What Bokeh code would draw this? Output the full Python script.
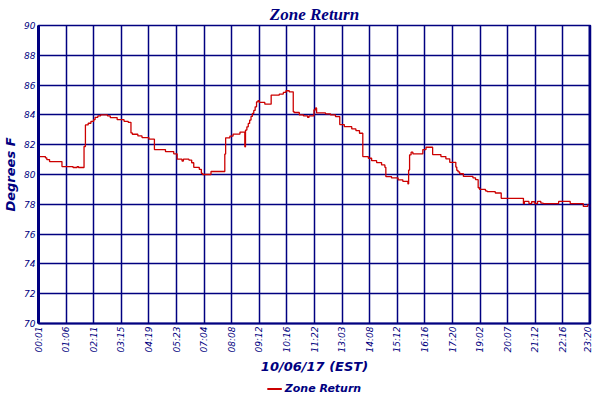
import math
from bokeh.plotting import figure
from bokeh.layouts import column
from bokeh.models import FixedTicker, Legend, LegendItem, Span, Range1d, ColumnDataSource
from bokeh.embed import file_html
from bokeh.resources import INLINE

# sample index (20 samples per grid interval) and zone return temperature
sample_idx = [0, 5, 6, 8, 17, 25, 28, 29, 33, 34, 36, 38, 40, 41, 43, 45, 50, 52, 57, 62,
              65, 67, 68, 72, 75, 80, 84, 92, 98, 100.5, 104, 105, 109, 111, 112.5, 116.5,
              118, 119, 125, 135, 135.6, 138.7, 141, 146, 149.5, 150, 151, 152, 153, 154,
              155, 156, 157, 158, 159, 160, 164, 168.6, 174.5, 177.4, 179.3, 181.7, 184.6,
              185.3, 189, 192, 195, 196, 199.6, 200.8, 201.5, 208, 211.6, 215.2, 218.3,
              221.6, 227, 230, 232.6, 235, 239, 241.4, 245, 248.6, 251, 251.7, 255.8, 260.6,
              264, 267.7, 268.2, 268.9, 270, 271.3, 278.5, 280.8, 285.6, 291.6, 295.2, 298,
              302.4, 303.1, 304, 305.2, 307.9, 314.8, 316.7, 318.6, 319.6, 323.9, 325.1, 331,
              335.3, 351.4, 352.1, 355.4, 357.3, 359.7, 361.6, 364, 365.7, 376.9, 385.3,
              394.8, 398, 399.5, 400]
zone_return = [81.2, 81.12, 81.0, 80.87, 80.53, 80.47, 80.53, 80.47, 81.88, 83.33, 83.44,
               83.57, 83.68, 83.84, 83.93, 84.0, 83.93, 83.82, 83.68, 83.57, 83.5, 82.79,
               82.7, 82.59, 82.48, 82.37, 81.67, 81.54, 81.39, 81.03, 80.9, 81.03, 80.97,
               80.79, 80.48, 80.35, 80.07, 80.0, 80.2, 81.37, 82.46, 82.58, 82.71, 82.85,
               81.86, 82.98, 83.2, 83.43, 83.65, 83.9, 84.1, 84.3, 84.54, 84.88, 84.95,
               84.84, 84.72, 85.33, 85.4, 85.51, 85.62, 85.55, 84.21, 84.16, 84.0, 83.93,
               83.83, 83.93, 84.34, 84.47, 84.13, 84.07, 84.0, 83.89, 83.35, 83.21, 83.06,
               82.95, 82.77, 81.2, 81.09, 80.93, 80.8, 80.64, 80.48, 79.86, 79.77, 79.64,
               79.54, 79.37, 80.3, 81.32, 81.5, 81.38, 81.67, 81.83, 81.34, 81.2, 81.05,
               80.82, 80.5, 80.28, 80.17, 80.05, 79.87, 79.78, 79.65, 79.11, 79.0, 78.9,
               78.85, 78.76, 78.4, 78.04, 78.19, 78.04, 78.17, 78.04, 78.19, 78.08, 78.04,
               78.19, 78.04, 77.86, 77.98, 77.86, 77.86]

tick_positions = [0, 20, 40, 60, 80, 100, 120, 140, 160, 180, 200, 220, 240, 260, 280,
                  300, 320, 340, 360, 380, 400]
tick_labels = ["00:01", "01:06", "02:11", "03:15", "04:19", "05:23", "07:04", "08:08",
               "09:12", "10:16", "11:22", "13:03", "14:08", "15:12", "16:16", "17:20",
               "19:02", "20:07", "21:12", "22:16", "23:20"]
y_ticks = [70, 72, 74, 76, 78, 80, 82, 84, 86, 88, 90]

NAVY = "#000080"
RED = "#cc0000"
W = 592

p = figure(width=W, height=378, output_backend="svg", toolbar_location=None,
           x_range=Range1d(0, 400), y_range=Range1d(70, 90),
           min_border_left=32, min_border_right=2, min_border_top=25, min_border_bottom=55,
           title="Zone Return")
p.background_fill_color = "white"
p.border_fill_color = "white"
p.outline_line_color = NAVY
p.outline_line_width = 1.5

p.title.text_font = "Liberation Serif"
p.title.text_font_style = "bold italic"
p.title.text_font_size = "17px"
p.title.text_color = NAVY
p.title.align = "center"
p.title.vertical_align = "top"
p.title.standoff = 0

src = ColumnDataSource(dict(x=sample_idx, y=zone_return))
r = p.step("x", "y", source=src, mode="after", line_color=RED, line_width=1.3)

p.xaxis.ticker = FixedTicker(ticks=tick_positions)
p.xaxis.major_label_overrides = {t: l for t, l in zip(tick_positions, tick_labels)}
p.xaxis.major_label_orientation = math.pi / 2
p.yaxis.ticker = FixedTicker(ticks=y_ticks)
p.xgrid.ticker = FixedTicker(ticks=tick_positions)
p.ygrid.ticker = FixedTicker(ticks=y_ticks)

for g in (p.xgrid, p.ygrid):
    g.grid_line_color = NAVY
    g.grid_line_width = 1.5
    g.grid_line_alpha = 1.0

for ax in (p.xaxis, p.yaxis):
    ax.axis_line_color = NAVY
    ax.major_tick_out = 0
    ax.major_tick_in = 0
    ax.minor_tick_out = 0
    ax.minor_tick_in = 0
    ax.major_label_text_font = "DejaVu Sans"
    ax.major_label_text_font_style = "italic"
    ax.major_label_text_font_size = "9px"
    ax.major_label_text_color = NAVY
    ax.major_label_standoff = 3
    ax.axis_label_text_font = "DejaVu Sans"
    ax.axis_label_text_font_style = "bold italic"
    ax.axis_label_text_font_size = "13px"
    ax.axis_label_text_color = NAVY
    ax.axis_label_standoff = 3

p.xaxis.axis_label_standoff = 4
p.yaxis.axis_line_width = 3
p.xaxis.axis_line_width = 2
p.yaxis.axis_label = "Degrees F"
p.xaxis.axis_label = "10/06/17 (EST)"

p.add_layout(Span(location=400, dimension="height", line_color=NAVY, line_width=4))

# legend strip below the chart
legend_label = "Zone Return"
lg = figure(width=W, height=20, output_backend="svg", toolbar_location=None,
            x_range=Range1d(0, 1), y_range=Range1d(0, 1),
            min_border_left=0, min_border_right=0, min_border_top=0, min_border_bottom=0)
lg.axis.visible = False
lg.grid.visible = False
lg.outline_line_color = None
lg.background_fill_color = "white"
lg.border_fill_color = "white"
proxy = lg.line(x=[5, 6], y=[5, 6], line_color=RED, line_width=2)
legend = Legend(items=[LegendItem(label=legend_label, renderers=[proxy])],
                orientation="horizontal", location="center",
                border_line_color=None, background_fill_alpha=0,
                label_text_font="DejaVu Sans", label_text_font_style="bold italic",
                label_text_font_size="11px", label_text_color=NAVY,
                glyph_width=15, glyph_height=10, label_standoff=3,
                padding=1, margin=0, spacing=0)
lg.add_layout(legend, "center")

layout = column(p, lg, spacing=0)
open("out.html", "w").write(file_html(layout, INLINE))
